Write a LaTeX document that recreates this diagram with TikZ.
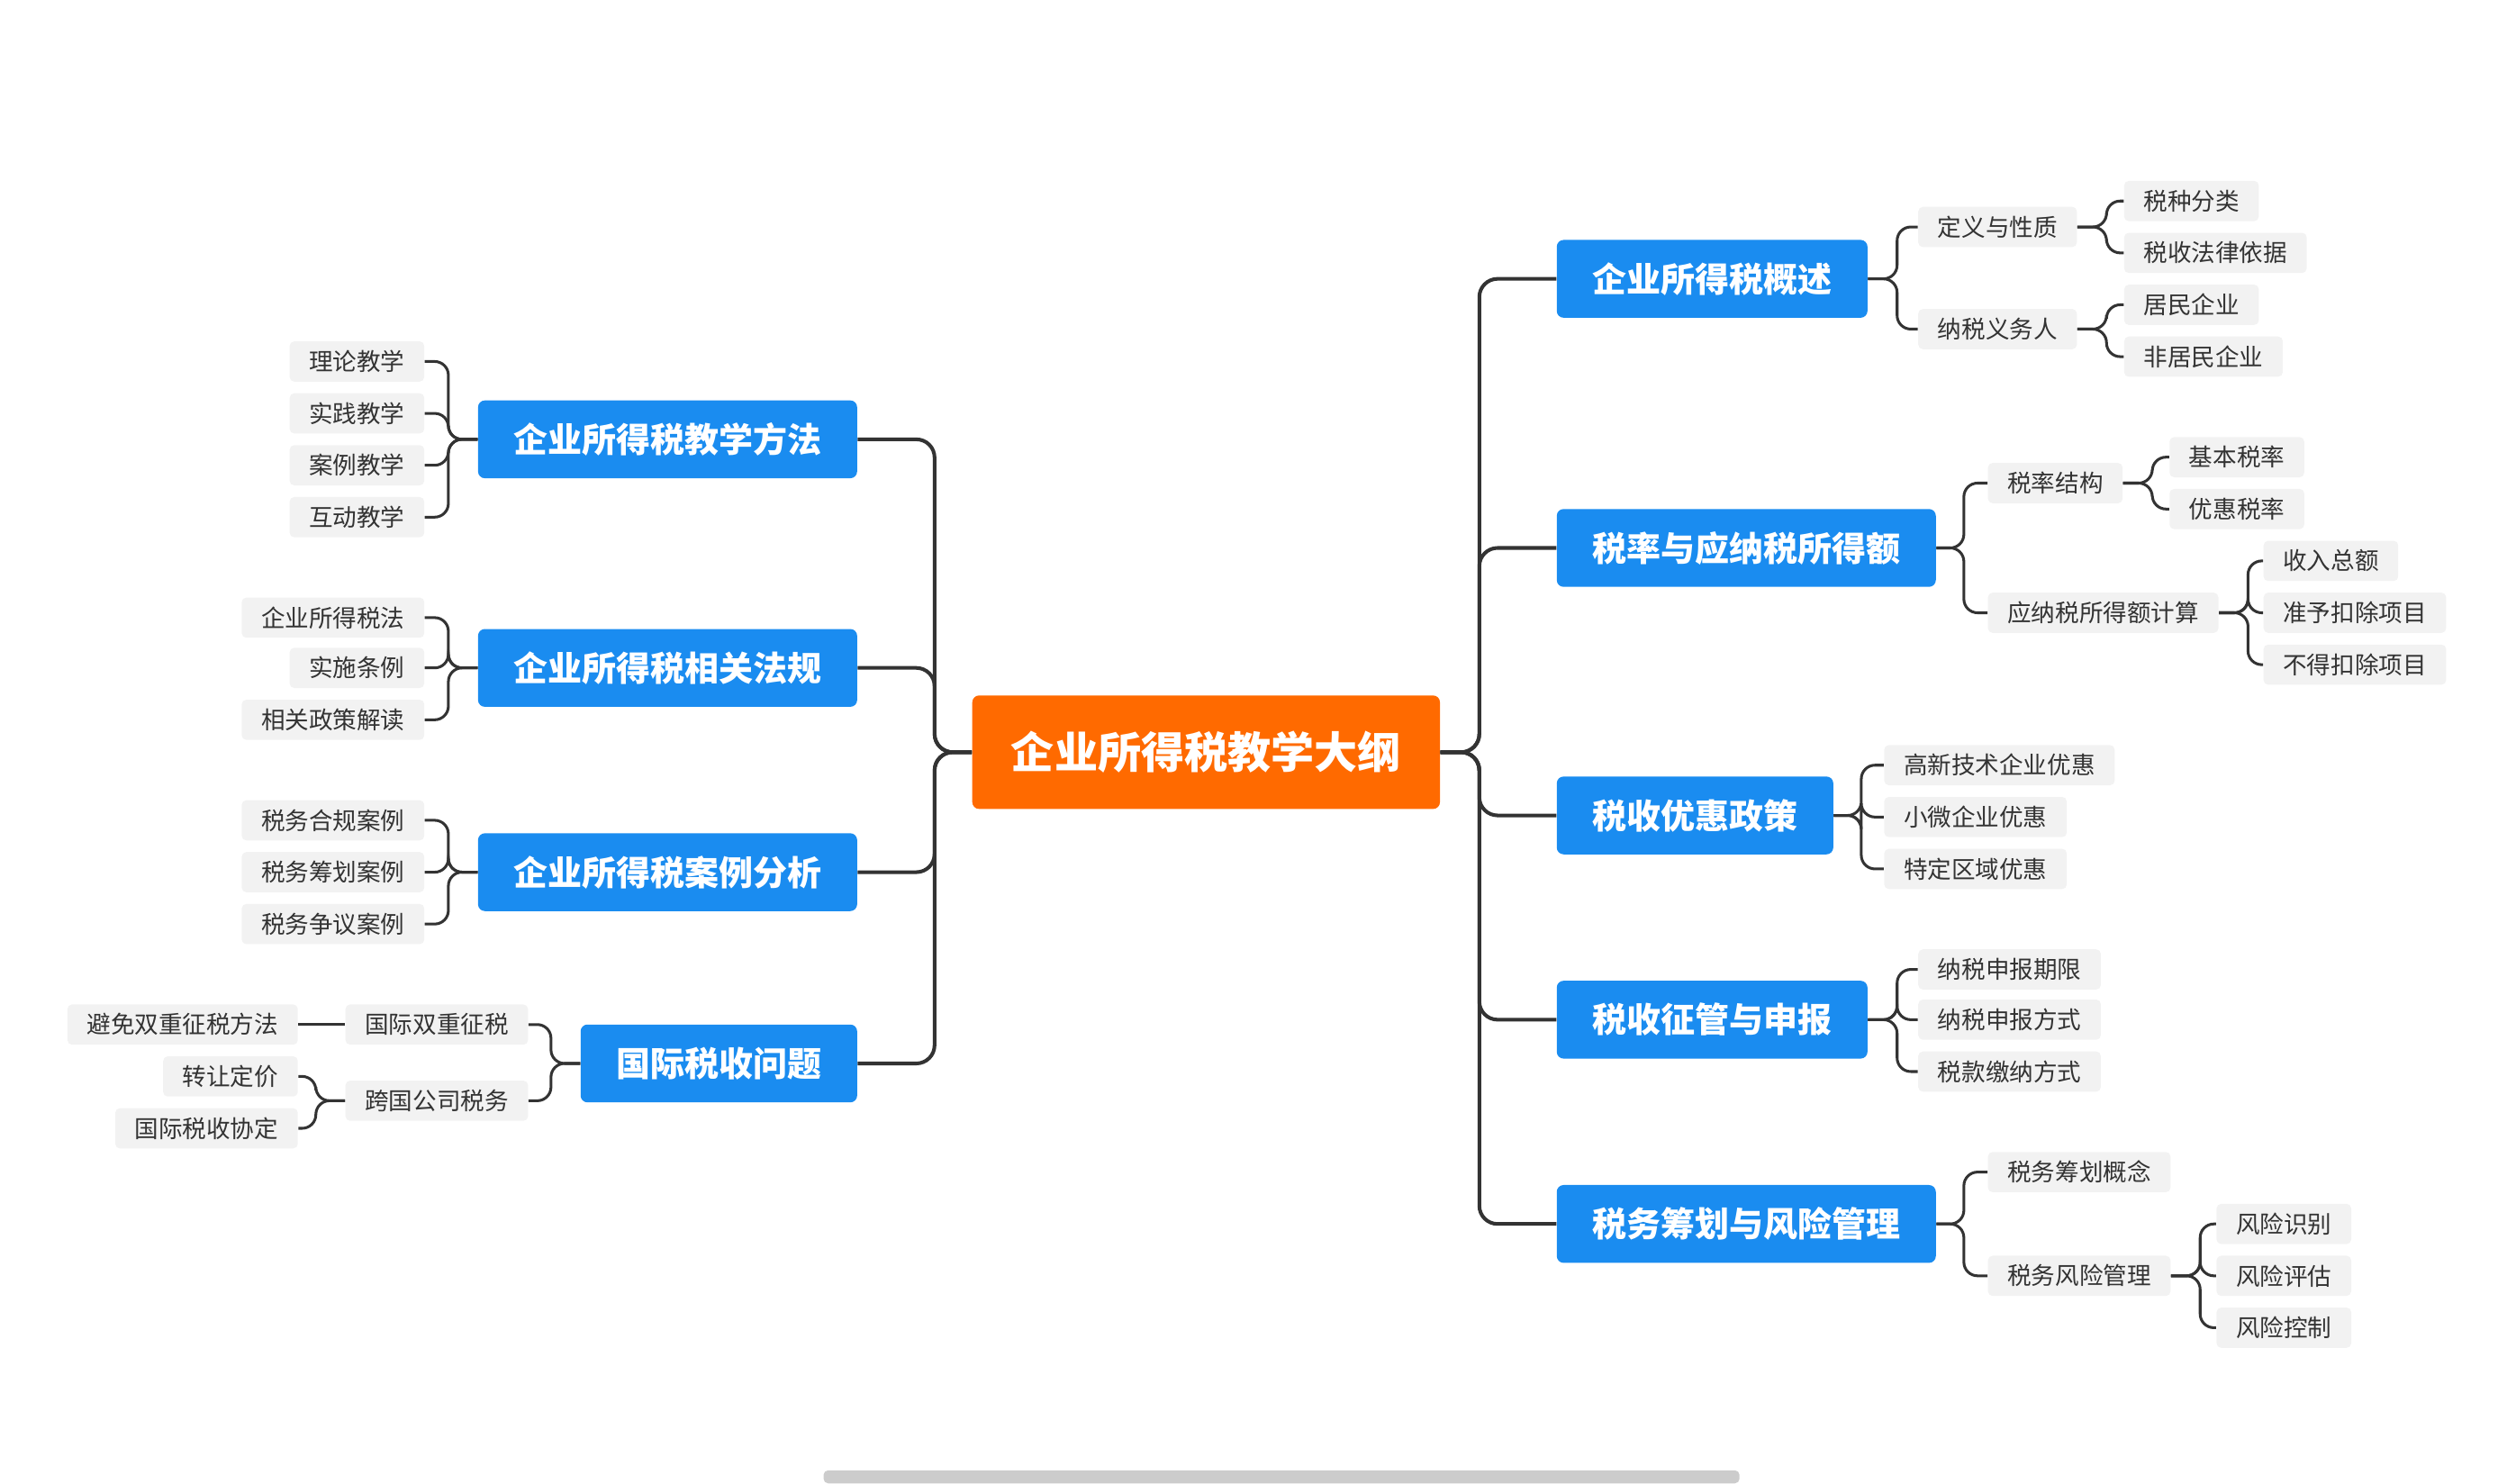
\documentclass[tikz,border=0pt]{standalone}
\usepackage{fontspec}
\setmainfont{Noto Sans CJK SC}
\definecolor{topicblue}{HTML}{1A8CF0}
\definecolor{rootorange}{HTML}{FF6A00}
\definecolor{leafgray}{HTML}{F2F2F2}
\definecolor{linkgray}{HTML}{333333}
\tikzset{
  rootbox/.style={fill=rootorange,text=white,rounded corners=3pt,minimum height=1.75cm,inner xsep=0.6cm,font=\fontsize{19}{22}\selectfont\bfseries},
  topic/.style={fill=topicblue,text=white,rounded corners=3pt,minimum height=1.2cm,inner xsep=0.55cm,font=\fontsize{15}{18}\selectfont\bfseries},
  leaf/.style={fill=leafgray,text=black!80,rounded corners=2pt,minimum height=0.62cm,inner xsep=0.3cm,font=\fontsize{10.5}{12}\selectfont},
  link/.style={draw=linkgray,line width=1.2pt,rounded corners=6pt},
  trunk/.style={draw=linkgray,line width=1.6pt,rounded corners=8pt},
}
% right / left bracket: parent, bracket offset, child
\newcommand{\rlink}[3]{\draw[link] (#1.east) -- ++(#2,0) |- (#3.west);}
\newcommand{\llink}[3]{\draw[link] (#1.west) -- ++(-#2,0) |- (#3.east);}
\begin{document}
\begin{tikzpicture}[x=0.025cm,y=-0.025cm]
\useasboundingbox (0,0) rectangle (1552,915);
\fill[black!20,rounded corners=2pt] (508,907) rectangle (1073,915);

\node[rootbox] (root) at (744,464) {企业所得税教学大纲};

% right topics
\node[topic,anchor=west] (r1) at (960,172) {企业所得税概述};
\node[topic,anchor=west] (r2) at (960,338) {税率与应纳税所得额};
\node[topic,anchor=west] (r3) at (960,503) {税收优惠政策};
\node[topic,anchor=west] (r4) at (960,629) {税收征管与申报};
\node[topic,anchor=west] (r5) at (960,755) {税务筹划与风险管理};
% left topics
\node[topic,anchor=east] (l1) at (529,271) {企业所得税教学方法};
\node[topic,anchor=east] (l2) at (529,412) {企业所得税相关法规};
\node[topic,anchor=east] (l3) at (529,538) {企业所得税案例分析};
\node[topic,anchor=east] (l4) at (529,656) {国际税收问题};

\foreach \t in {r1,r2,r3,r4,r5} {\draw[trunk] (root.east) -- ++(24,0) |- (\t.west);}
\foreach \t in {l1,l2,l3,l4} {\draw[trunk] (root.west) -- ++(-23,0) |- (\t.east);}

% r1
\node[leaf,anchor=west] (r1a) at (1183,140) {定义与性质};
\node[leaf,anchor=west] (r1b) at (1183,203) {纳税义务人};
\node[leaf,anchor=west] (r1a1) at (1310,124) {税种分类};
\node[leaf,anchor=west] (r1a2) at (1310,156) {税收法律依据};
\node[leaf,anchor=west] (r1b1) at (1310,188) {居民企业};
\node[leaf,anchor=west] (r1b2) at (1310,220) {非居民企业};
\foreach \c in {r1a,r1b} {\rlink{r1}{18}{\c}}
\foreach \c in {r1a1,r1a2} {\rlink{r1a}{18}{\c}}
\foreach \c in {r1b1,r1b2} {\rlink{r1b}{18}{\c}}

% r2
\node[leaf,anchor=west] (r2a) at (1226,298) {税率结构};
\node[leaf,anchor=west] (r2b) at (1226,378) {应纳税所得额计算};
\node[leaf,anchor=west] (r2a1) at (1338,282) {基本税率};
\node[leaf,anchor=west] (r2a2) at (1338,314) {优惠税率};
\node[leaf,anchor=west] (r2b1) at (1396,346) {收入总额};
\node[leaf,anchor=west] (r2b2) at (1396,378) {准予扣除项目};
\node[leaf,anchor=west] (r2b3) at (1396,410) {不得扣除项目};
\foreach \c in {r2a,r2b} {\rlink{r2}{17}{\c}}
\foreach \c in {r2a1,r2a2} {\rlink{r2a}{18}{\c}}
\foreach \c in {r2b1,r2b2,r2b3} {\rlink{r2b}{18}{\c}}

% r3
\node[leaf,anchor=west] (r3a) at (1162,472) {高新技术企业优惠};
\node[leaf,anchor=west] (r3b) at (1162,504) {小微企业优惠};
\node[leaf,anchor=west] (r3c) at (1162,536) {特定区域优惠};
\foreach \c in {r3a,r3b,r3c} {\rlink{r3}{17}{\c}}

% r4
\node[leaf,anchor=west] (r4a) at (1183,598) {纳税申报期限};
\node[leaf,anchor=west] (r4b) at (1183,629) {纳税申报方式};
\node[leaf,anchor=west] (r4c) at (1183,661) {税款缴纳方式};
\foreach \c in {r4a,r4b,r4c} {\rlink{r4}{18}{\c}}

% r5
\node[leaf,anchor=west] (r5a) at (1226,723) {税务筹划概念};
\node[leaf,anchor=west] (r5b) at (1226,787) {税务风险管理};
\node[leaf,anchor=west] (r5b1) at (1367,755) {风险识别};
\node[leaf,anchor=west] (r5b2) at (1367,787) {风险评估};
\node[leaf,anchor=west] (r5b3) at (1367,819) {风险控制};
\foreach \c in {r5a,r5b} {\rlink{r5}{17}{\c}}
\foreach \c in {r5b1,r5b2,r5b3} {\rlink{r5b}{18}{\c}}

% l1
\node[leaf,anchor=east] (l1a) at (262,223) {理论教学};
\node[leaf,anchor=east] (l1b) at (262,255) {实践教学};
\node[leaf,anchor=east] (l1c) at (262,287) {案例教学};
\node[leaf,anchor=east] (l1d) at (262,319) {互动教学};
\foreach \c in {l1a,l1b,l1c,l1d} {\llink{l1}{18}{\c}}

% l2
\node[leaf,anchor=east] (l2a) at (262,381) {企业所得税法};
\node[leaf,anchor=east] (l2b) at (262,412) {实施条例};
\node[leaf,anchor=east] (l2c) at (262,444) {相关政策解读};
\foreach \c in {l2a,l2b,l2c} {\llink{l2}{18}{\c}}

% l3
\node[leaf,anchor=east] (l3a) at (262,506) {税务合规案例};
\node[leaf,anchor=east] (l3b) at (262,538) {税务筹划案例};
\node[leaf,anchor=east] (l3c) at (262,570) {税务争议案例};
\foreach \c in {l3a,l3b,l3c} {\llink{l3}{18}{\c}}

% l4
\node[leaf,anchor=east] (l4a) at (326,632) {国际双重征税};
\node[leaf,anchor=east] (l4b) at (326,679) {跨国公司税务};
\node[leaf,anchor=east] (l4a1) at (184,632) {避免双重征税方法};
\node[leaf,anchor=east] (l4b1) at (184,664) {转让定价};
\node[leaf,anchor=east] (l4b2) at (184,696) {国际税收协定};
\foreach \c in {l4a,l4b} {\llink{l4}{18}{\c}}
\draw[link] (l4a.west) -- (l4a1.east);
\foreach \c in {l4b1,l4b2} {\llink{l4b}{18}{\c}}
\end{tikzpicture}
\end{document}
